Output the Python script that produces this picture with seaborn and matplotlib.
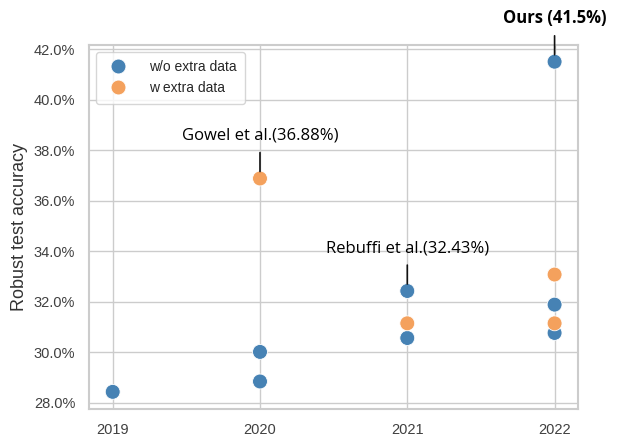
import matplotlib
matplotlib.use('Agg')
import matplotlib.pyplot as plt
import seaborn as sns
import pandas as pd
from matplotlib.ticker import FuncFormatter

# data
years_wo = [2019, 2020, 2020, 2021, 2021, 2022, 2022, 2022]
acc_wo = [28.44, 30.02, 28.85, 32.43, 30.57, 41.5, 31.89, 30.77]
years_w = [2020, 2021, 2022, 2022]
acc_w = [36.88, 31.15, 33.08, 31.15]
labels = ['w/o extra data', 'w extra data']
colors = ['#4682b4', '#f4a15d']

df = pd.DataFrame({
    'year': years_wo + years_w,
    'acc': acc_wo + acc_w,
    'group': [labels[0]] * len(years_wo) + [labels[1]] * len(years_w),
})

sns.set_theme(style='whitegrid')
plt.rcParams['font.family'] = ['Liberation Sans', 'DejaVu Sans']

fig = plt.figure(figsize=(6.19, 4.37), dpi=100)
ax = fig.add_axes([0.144, 0.064, 0.79, 0.833])

sns.scatterplot(data=df, x='year', y='acc', hue='group', palette=colors,
                s=115, edgecolor='white', linewidth=0.6, ax=ax)

ax.set_xlim(2018.84, 2022.16)
ax.set_ylim(27.76, 42.16)
ax.set_xticks([2019, 2020, 2021, 2022])
ax.set_yticks([28, 30, 32, 34, 36, 38, 40, 42])
ax.yaxis.set_major_formatter(FuncFormatter(lambda v, p: f'{v:.1f}%'))
ax.tick_params(labelsize=10.5, colors='#404040', pad=4)
ax.set_xlabel('')
ax.set_ylabel('Robust test accuracy', fontsize=13, color='#333333')
for sp in ax.spines.values():
    sp.set_color('#cccccc')
    sp.set_linewidth(1.5)

leg = ax.legend(loc='upper left', fontsize=10, frameon=True, markerscale=1.0,
                borderpad=0.6, handletextpad=1.2)
leg.get_frame().set_edgecolor('#cccccc')

notes = [
    ('Gowel et al.(36.88%)', 2020, 36.88, 'normal'),
    ('Rebuffi et al.(32.43%)', 2021, 32.43, 'normal'),
    ('Ours (41.5%)', 2022, 41.5, 'bold'),
]
for txt, x, y, w in notes:
    ax.annotate(txt, xy=(x, y), xytext=(0, 25), textcoords='offset points',
                ha='center', va='bottom', fontsize=12, fontweight=w,
                family=['Open Sans', 'DejaVu Sans'], color='black',
                annotation_clip=False,
                arrowprops=dict(arrowstyle='-', color='#111111', lw=1.2,
                                shrinkA=4, shrinkB=5))

fig.savefig('out.png', dpi=100)
